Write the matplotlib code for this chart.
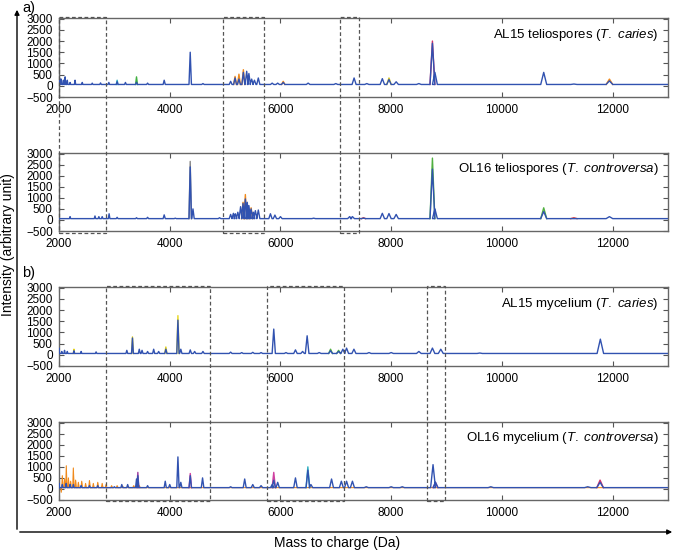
import matplotlib
matplotlib.use("Agg")
import matplotlib.pyplot as plt
from matplotlib import transforms
from matplotlib.patches import Rectangle, FancyArrowPatch

plt.rcParams['font.family'] = ['Liberation Sans', 'DejaVu Sans']
plt.rcParams['mathtext.fontset'] = 'custom'
plt.rcParams['mathtext.rm'] = 'Liberation Sans'
plt.rcParams['mathtext.it'] = 'Liberation Sans:italic'

# ---------------- data ----------------
x_ticks = [2000, 4000, 6000, 8000, 10000, 12000]
y_ticks = [-500, 0, 500, 1000, 1500, 2000, 2500, 3000]
titles = ["AL15 teliospores ($\\mathit{T.\\ caries}$)",
          "OL16 teliospores ($\\mathit{T.\\ controversa}$)",
          "AL15 mycelium ($\\mathit{T.\\ caries}$)",
          "OL16 mycelium ($\\mathit{T.\\ controversa}$)"]

# AL15 teliospores
p1_mass = [2010, 2040, 2080, 2110, 2150, 2200, 2290, 2420, 2600, 2750, 2900, 3050, 3200, 3400, 3600, 3900,
           4370, 4600, 5100, 5180, 5250, 5330, 5390, 5430, 5480, 5530, 5600, 5850, 5950, 6050, 6500, 7000,
           7330, 7560, 7840, 7960, 8090, 8500, 8745, 8790, 10755, 11300, 11942]
p1_int = [350, 300, 250, 400, 250, 150, 250, 150, 120, 130, 150, 180, 150, 160, 120, 250,
          1500, 100, 200, 350, 300, 600, 650, 550, 300, 250, 350, 120, 120, 150, 120, 100,
          350, 100, 320, 280, 180, 100, 1900, 600, 600, 80, 220]
p1_tip_mass = [3050, 3400, 5180, 5250, 5330, 6050, 7960, 8745, 11942]
p1_tip_int = [250, 400, 420, 520, 720, 200, 350, 2000, 300]
p1_tip_col = ["#30b0c0", "#40b040", "#f08a1c", "#f08a1c", "#f08a1c", "#f08a1c", "#d8c820", "#d0306a", "#f08a1c"]

# OL16 teliospores
p2_mass = [2200, 2650, 2720, 2780, 2905, 3050, 3400, 3600, 3900, 4100, 4370, 4420, 4900, 5100, 5150, 5185,
           5230, 5280, 5324, 5366, 5400, 5430, 5470, 5510, 5547, 5600, 5819, 5900, 6000, 6600, 7250, 7300,
           7500, 7840, 7960, 8090, 8745, 8790, 10755, 11300, 11942]
p2_int = [150, 180, 150, 150, 280, 120, 100, 120, 230, 80, 2400, 500, 100, 250, 300, 280,
          350, 600, 750, 950, 800, 650, 500, 350, 420, 450, 280, 220, 150, 80, 150, 150,
          80, 300, 290, 250, 2300, 500, 380, 60, 150]
p2_tip_mass = [4370, 5324, 5366, 5470, 7500, 8745, 10755, 11300]
p2_tip_int = [2650, 800, 1150, 550, 100, 2800, 550, 100]
p2_tip_col = ["#888888", "#f08a1c", "#f08a1c", "#f08a1c", "#e04040", "#50b040", "#50b040", "#e04040"]

# AL15 mycelium
p3_mass = [2000, 2050, 2100, 2150, 2270, 2400, 2670, 3225, 3327, 3450, 3500, 3600, 3710, 3800, 3930, 4148,
           4200, 4371, 4450, 4600, 5100, 5300, 5500, 5650, 5879, 6100, 6271, 6400, 6482, 6700, 6905, 7050,
           7127, 7194, 7327, 7600, 8000, 8500, 8745, 8896, 9600, 11778]
p3_int = [300, 150, 200, 150, 180, 150, 130, 200, 750, 250, 200, 150, 250, 150, 250, 1550,
          250, 220, 150, 150, 120, 100, 110, 100, 1150, 100, 220, 150, 850, 100, 180, 150,
          250, 300, 250, 100, 100, 150, 300, 250, 80, 700]
p3_tip_mass = [2270, 3327, 3930, 4148, 6905, 7050]
p3_tip_int = [250, 800, 350, 1750, 250, 200]
p3_tip_col = ["#e0d020", "#e0d020", "#e0d020", "#e8d820", "#50b040", "#50b040"]

# OL16 mycelium
p4_mass = [2000, 2060, 2130, 2200, 2260, 2400, 2550, 2700, 3000, 3134, 3240, 3400, 3424, 3600, 3919, 4000,
           4148, 4200, 4371, 4593, 5100, 5354, 5500, 5650, 5850, 5879, 5950, 6271, 6495, 6550, 6923, 7100,
           7194, 7300, 7550, 8000, 8200, 8756, 8800, 9800, 11550, 11773]
p4_int = [250, 200, 250, 200, 200, 150, 150, 150, 100, 200, 200, 450, 600, 150, 350, 200,
          1450, 300, 600, 500, 100, 450, 200, 150, 200, 400, 300, 500, 850, 200, 450, 350,
          350, 350, 100, 100, 100, 1100, 300, 100, 100, 300]
p4_orange_mass = [2000, 2040, 2060, 2100, 2132, 2170, 2210, 2259, 2300, 2350, 2410, 2480, 2550, 2620, 2700,
                  2780, 2850, 2950, 3050, 3150, 3250, 3350, 3450]
p4_orange_int = [2200, -150, 600, 450, 1050, 500, 350, 950, 400, 300, 350, 250, 380, 250, 300,
                 250, 200, 150, 150, 130, 120, 150, 150]
p4_tip_mass = [3424, 4371, 5879, 6495, 8800, 11773]
p4_tip_int = [750, 700, 750, 1000, 300, 400]
p4_tip_col = ["#a040a0", "#d040a0", "#d040a0", "#30b0c0", "#d040a0", "#d0306a"]

box_a = [(2000, 2850), (4970, 5700), (7070, 7420)]
box_b = [(2850, 4720), (5750, 7150), (8650, 8970)]

BLUE = "#3152b0"
BASE = 60
XMIN, XMAX = 2000, 13000


def spectrum(masses, heights, full=True):
    xs, ys = ([XMIN], [BASE]) if full else ([], [])
    for m, h in sorted(zip(masses, heights)):
        w = 0.005 * m
        xs += [m - w, m, m + w]
        ys += [BASE, h, BASE]
    if full:
        xs.append(XMAX)
        ys.append(BASE)
    return xs, ys


W, H = 676, 551
fig = plt.figure(figsize=(W / 100, H / 100), dpi=100)

panels = [(18, 97), (153, 231), (287, 366), (422, 500)]
data = [
    (p1_mass, p1_int, p1_tip_mass, p1_tip_int, p1_tip_col, None),
    (p2_mass, p2_int, p2_tip_mass, p2_tip_int, p2_tip_col, None),
    (p3_mass, p3_int, p3_tip_mass, p3_tip_int, p3_tip_col, None),
    (p4_mass, p4_int, p4_tip_mass, p4_tip_int, p4_tip_col, (p4_orange_mass, p4_orange_int)),
]
axes = []
for (top, bot), (bm, bi, tm, ti, tc, extra), title in zip(panels, data, titles):
    ax = fig.add_axes([59 / W, (H - bot) / H, 609 / W, (bot - top) / H])
    axes.append(ax)
    if extra is not None:
        ex, ey = spectrum(*extra)
        ax.fill_between(ex, BASE, ey, color="#f5a040", alpha=0.7, lw=0, zorder=1)
        ax.plot(ex, ey, color="#f08a1c", lw=0.8, zorder=2)
    for m, h, c in zip(tm, ti, tc):
        sx, sy = spectrum([m], [h], full=False)
        ax.plot(sx, sy, color=c, lw=1.0, zorder=2)
    x, y = spectrum(bm, bi)
    ax.plot(x, y, color=BLUE, lw=1.0, zorder=3)
    ax.set_xlim(XMIN, XMAX)
    ax.set_ylim(-480, 3030)
    ax.set_xticks(x_ticks)
    ax.set_yticks(y_ticks)
    ax.tick_params(direction='in', top=True, right=True, length=3.5, width=0.8,
                   color='#555555', labelsize=8.5, pad=4.5)
    ax.tick_params(axis='x', pad=5)
    for s in ax.spines.values():
        s.set_color('#666666')
        s.set_linewidth(1.0)
    ax.text(0.984, 0.79, title, transform=ax.transAxes, ha='right', va='center', fontsize=9.5)

# dashed boxes spanning the panel pairs
blend = transforms.blended_transform_factory(axes[0].transData, fig.transFigure)
for (x0, x1) in box_a:
    fig.add_artist(Rectangle((x0, (H - 232.5) / H), x1 - x0, (232.5 - 17) / H, transform=blend,
                             fill=False, ec='#555555', lw=0.9, ls=(0, (3, 2)), clip_on=False, zorder=5))
for (x0, x1) in box_b:
    fig.add_artist(Rectangle((x0, (H - 501) / H), x1 - x0, (501 - 286) / H, transform=blend,
                             fill=False, ec='#555555', lw=0.9, ls=(0, (3, 2)), clip_on=False, zorder=5))

# outer arrows
fig.add_artist(FancyArrowPatch((17 / W, (H - 532) / H), (17 / W, (H - 7) / H), transform=fig.transFigure,
                               arrowstyle='-|>', mutation_scale=7, lw=1.0, color='black'))
fig.add_artist(FancyArrowPatch((17 / W, (H - 532) / H), (675 / W, (H - 532) / H), transform=fig.transFigure,
                               arrowstyle='-|>', mutation_scale=7, lw=1.0, color='black'))

fig.text(22 / W, (H - 8) / H, "a)", fontsize=10.5, ha='left', va='center')
fig.text(22 / W, (H - 273) / H, "b)", fontsize=10.5, ha='left', va='center')
fig.text(8 / W, (H - 245) / H, "Intensity (arbitrary unit)", rotation=90, fontsize=10,
         ha='center', va='center')
fig.text(337 / W, (H - 543) / H, "Mass to charge (Da)", fontsize=10, ha='center', va='center')

fig.savefig("out.png", dpi=100)
